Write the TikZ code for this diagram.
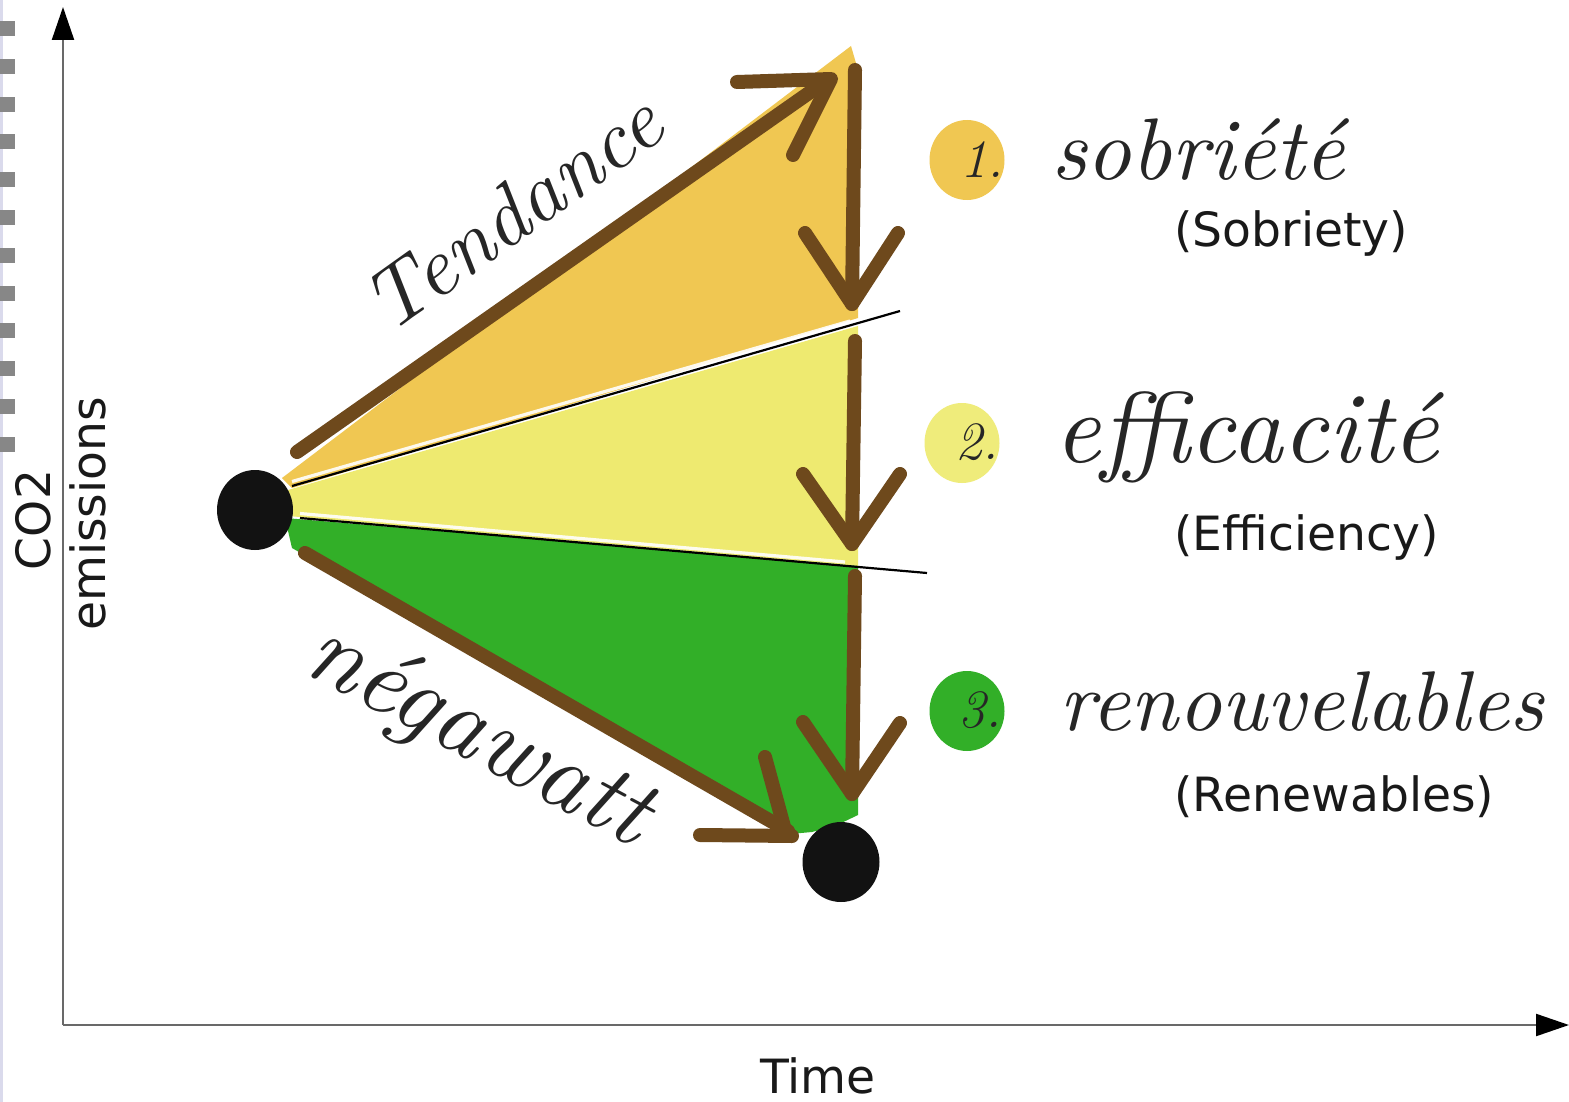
\documentclass[tikz,border=0pt]{standalone}
\usepackage{fontspec}
\usepackage{graphicx}
\newfontfamily\dejavu{DejaVu Sans}
\usetikzlibrary{arrows.meta,shapes.geometric}
\definecolor{orng}{RGB}{240,199,82}
\definecolor{ylw}{RGB}{238,234,112}
\definecolor{grn}{RGB}{50,175,40}
\definecolor{brn}{RGB}{110,73,28}
\definecolor{axisgray}{RGB}{105,105,105}
\definecolor{dashgray}{RGB}{135,135,135}
\definecolor{lav}{RGB}{218,218,236}
\definecolor{dotblack}{RGB}{18,18,18}
\begin{document}
\begin{tikzpicture}[x=0.5pt,y=-0.5pt,
  brownarrow/.style={draw=brn, line width=7pt, line cap=round, line join=round},
  sepline/.style={draw=black, line width=1.1pt},
  sephalo/.style={draw=white, line width=1.6pt, opacity=0.9},
  axisline/.style={draw=axisgray, line width=1.1pt, -{Triangle[length=16.5pt,width=11pt,color=black,fill=black]}},
  bigdot/.style={ellipse, fill=dotblack, inner sep=0pt, minimum width=38pt, minimum height=40pt},
  numdot/.style={ellipse, inner sep=0pt, minimum width=37.5pt, minimum height=40pt},
  sanslabel/.style={font=\dejavu\fontsize{23.6}{28}\selectfont, inner sep=0pt, text=black!90},
  hand/.style={font=\normalfont\itshape, inner sep=0pt, text=black!85},
  numtext/.style={font=\normalfont\itshape\fontsize{27}{30}\selectfont, inner sep=0pt, text=black!85}
]
\useasboundingbox (0,0) rectangle (1569,1102);
\fill[white] (0,0) rectangle (1569,1102);

% left page edge with dashes
\fill[lav] (0,0) rectangle (2.5,1102);
\foreach \k in {0,...,11} \fill[dashgray] (0,{21+37.8*\k}) rectangle (15,{36+37.8*\k});

% axes
\coordinate (origin) at (63,1025);
\coordinate (ytip) at (63,7);
\coordinate (xtip) at (1569,1025);
\draw[axisline] (origin) -- (ytip);
\draw[axisline] (origin) -- (xtip);

% coloured wedges
\fill[orng] (282,478) -- (851,46) -- (858,70) -- (858,318) -- (292,488) -- cycle;
\fill[ylw] (288,490) -- (858,326) -- (858,566) -- (288,516) -- cycle;
\fill[grn] (285,518) -- (858,566) -- (858,815) -- (835,826) -- (812,832) -- (790,834) -- (292,548) -- cycle;

% separators
\coordinate (s1a) at (292,486);
\coordinate (s1b) at (900,311);
\coordinate (s2a) at (300,518);
\coordinate (s2b) at (927,573);
\draw[sephalo] (292,481.5) -- (850,321);
\draw[sepline] (s1a) -- (s1b);
\draw[sephalo] (300,513.5) -- (845,562);
\draw[sepline] (s2a) -- (s2b);

% dots
\node[bigdot] (start) at (255,510) {};
\node[bigdot, minimum width=38.5pt] (finish) at (841,862) {};

% Tendance arrow
\coordinate (t0) at (297,452);
\coordinate (t1) at (826,81);
\draw[brownarrow] (t0) -- (t1);
\draw[brownarrow] (737,82) -- (831,79) -- (793,155);

% negaWatt arrow
\coordinate (n0) at (305,553);
\coordinate (n1) at (788,831);
\draw[brownarrow] (n0) -- (n1);
\draw[brownarrow] (765,757) -- (786,834);
\draw[brownarrow] (700,835) -- (792,836);

% vertical arrows
\coordinate (v1a) at (855,70);   \coordinate (v1b) at (852,304);
\coordinate (v2a) at (855,341);  \coordinate (v2b) at (852,544);
\coordinate (v3a) at (855,576);  \coordinate (v3b) at (852,794);
\draw[brownarrow] (v1a) -- (v1b);
\draw[brownarrow] (805,233) -- (v1b) -- (898,233);
\draw[brownarrow] (v2a) -- (v2b);
\draw[brownarrow] (803,474) -- (v2b) -- (900,474);
\draw[brownarrow] (v3a) -- (v3b);
\draw[brownarrow] (803,722) -- (v3b) -- (900,723);

% handwritten labels along arrows
\node[hand, rotate=35.5] (tend) at (512,212) {\resizebox{172pt}{!}{Tendance}};
\node[hand, rotate=-28] (nega) at (478,737) {\resizebox{188pt}{!}{négawatt}};

% numbered circles
\node[numdot, fill=orng] (c1) at (967,160) {};
\node[numdot, fill=ylw!92!white] (c2) at (962,443) {};
\node[numdot, fill=grn] (c3) at (967,711) {};
\node[numtext] (n1t) at (982,160) {1.};
\node[numtext] (n2t) at (977,442) {2.};
\node[numtext] (n3t) at (980,710) {3.};

% handwritten French terms
\node[hand] (sobF) at (1198,150) {\resizebox{147pt}{!}{sobriété}};
\node[hand] (effF) at (1247,437) {\resizebox{192pt}{!}{efficacité}};
\node[hand] (renF) at (1302,702) {\resizebox{242pt}{!}{renouvelables}};

% English terms
\node[sanslabel, anchor=west] (sobE) at (1174,233) {(Sobriety)};
\node[sanslabel, anchor=west] (effE) at (1174,537) {(Efficiency)};
\node[sanslabel, anchor=west] (renE) at (1174,797) {(Renewables)};

% axis labels
\node[sanslabel] (xlab) at (818,1076) {Time};
\node[sanslabel, rotate=90] (ylab1) at (33,520) {CO2};
\node[sanslabel, rotate=90] (ylab2) at (88,514) {emissions};
\end{tikzpicture}
\end{document}
